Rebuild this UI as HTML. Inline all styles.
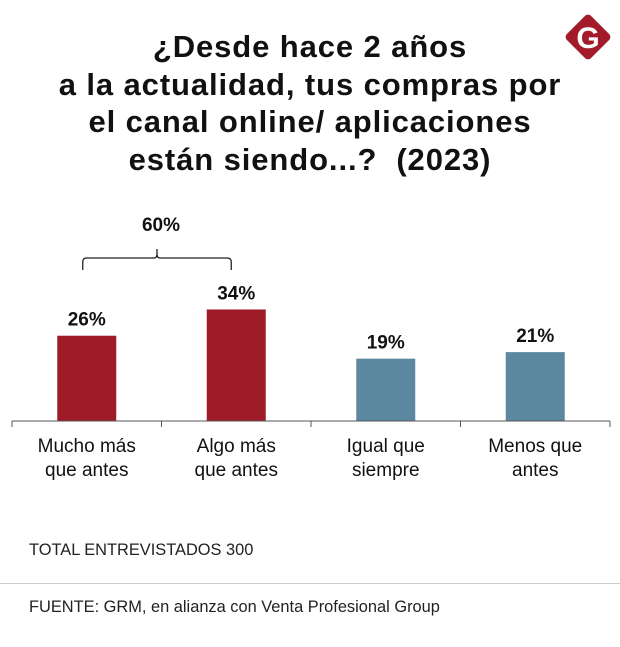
<!DOCTYPE html>
<html><head><meta charset="utf-8"><style>
body{margin:0;width:620px;height:647px;background:#fff;font-family:"Liberation Sans",sans-serif;overflow:hidden;position:relative}
#title{position:absolute;top:28px;left:0;width:620px;text-align:center;font-weight:bold;font-size:31px;letter-spacing:0.9px;line-height:37.5px;color:#111}
.foot{position:absolute;left:29px;font-size:16.4px;color:#222}
</style></head><body>
<div id="title">¿Desde hace 2 años<br>a la actualidad, tus compras por<br>el canal online/ aplicaciones<br>están siendo...?&nbsp; (2023)</div>
<svg width="620" height="647" style="position:absolute;left:0;top:0" id="chart">
<g><rect x="571" y="20" width="34" height="34" rx="4" fill="#a31b2a" transform="rotate(45 588 37)"/><text x="588" y="48" text-anchor="middle" font-family="Liberation Sans" font-weight="bold" font-size="30" fill="#fff">G</text></g>
</svg>
<div class="foot" style="top:541px">TOTAL ENTREVISTADOS 300</div>
<div style="position:absolute;left:0;top:583px;width:620px;height:1px;background:#ccc"></div>
<div class="foot" style="top:598px">FUENTE: GRM, en alianza con Venta Profesional Group</div>
<script>
const categories=[["Mucho más","que antes"],["Algo más","que antes"],["Igual que","siempre"],["Menos que","antes"]];
const values=[26,34,19,21];
const colors=["#9e1b28","#9e1b28","#5b87a0","#5b87a0"];
const valueLabels=["26%","34%","19%","21%"];
const groupLabel="60%";
const svg=document.getElementById('chart');const NS="http://www.w3.org/2000/svg";
const x0=12,step=149.5,base=421,scale=3.28,bw=59;
const xc=i=>x0+step*(i+0.5);const y=v=>base-v*scale;
function mk(t,a){const e=document.createElementNS(NS,t);for(const k in a)e.setAttribute(k,a[k]);svg.appendChild(e);return e;}
values.forEach((v,i)=>{
 const r=mk('rect',{x:xc(i)-bw/2,y:y(v),width:bw,height:v*scale,fill:colors[i]});
 
 
 const t=mk('text',{x:xc(i),y:y(v)-10,'text-anchor':'middle','font-weight':'bold','font-size':'19',fill:'#111'});t.textContent=valueLabels[i];
 
 
 categories[i].forEach((l,j)=>{const c=mk('text',{x:xc(i),y:452+j*24,'text-anchor':'middle','font-size':'19',fill:'#111'});c.textContent=l;
 
 });
});
const ax=mk('path',{d:`M${x0} ${base}H${x0+4*step}`,stroke:'#555','stroke-width':1});


for(let i=0;i<=4;i++){const tk=mk('path',{d:`M${x0+i*step} ${base}v6`,stroke:'#555'});

}
const l=xc(0)-4,r=xc(1)-5,m=(l+r)/2;
const br=mk('path',{d:`M${l} 270V262Q${l} 258 ${l+4} 258H${m-3}Q${m} 258 ${m} 254V249M${m} 254Q${m} 258 ${m+3} 258H${r-4}Q${r} 258 ${r} 262V270`,stroke:'#222',fill:'none','stroke-width':1.3});


const g=mk('text',{x:m+4,y:231,'text-anchor':'middle','font-weight':'bold','font-size':'19',fill:'#111'});g.textContent=groupLabel;


</script>
</body></html>
